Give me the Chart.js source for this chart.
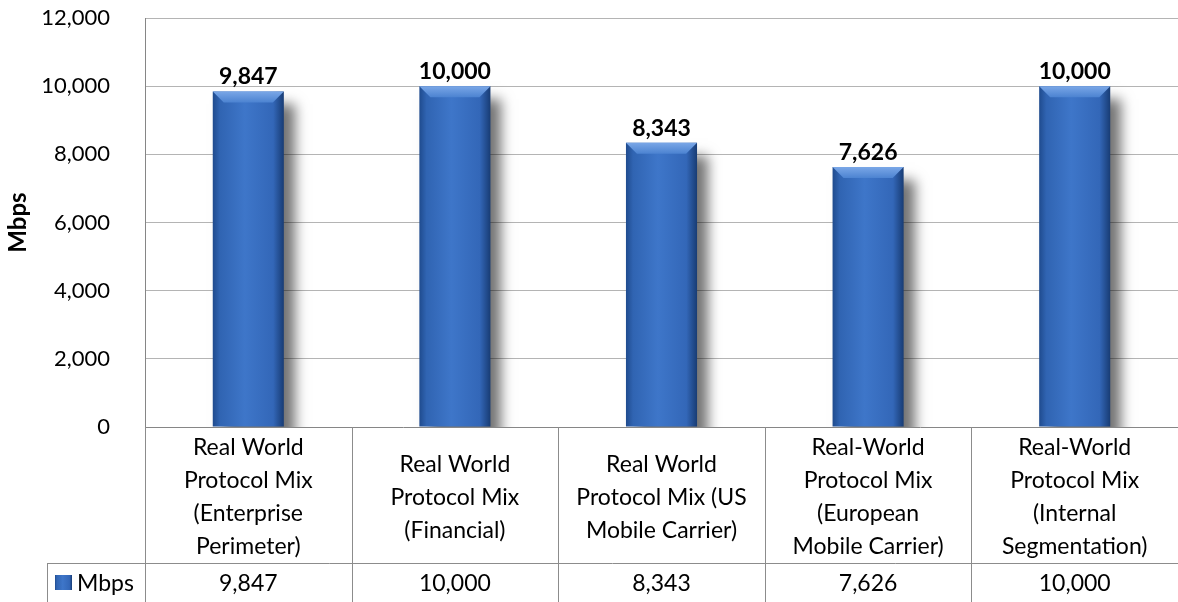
<!DOCTYPE html>
<html><head><meta charset="utf-8">
<script src="https://cdn.jsdelivr.net/npm/chart.js@4.4.1/dist/chart.umd.min.js"></script>
<style>html,body{margin:0;padding:0;background:#fff;overflow:hidden}#wrap{width:1178px;height:602px;}</style>
</head><body><div id="wrap"><canvas id="c" width="1178" height="602"></canvas></div>
<script>
const categories = [
  ['Real World','Protocol Mix','(Enterprise','Perimeter)'],
  ['Real World','Protocol Mix','(Financial)'],
  ['Real World','Protocol Mix (US','Mobile Carrier)'],
  ['Real-World','Protocol Mix','(European','Mobile Carrier)'],
  ['Real-World','Protocol Mix','(Internal','Segmentation)']
];
const seriesName = 'Mbps';
const mbpsValues = [9847, 10000, 8343, 7626, 10000];
const yMin = 0, yMax = 12000, yStep = 2000;
const axisTitle = 'Mbps';

const FONT = 'Lato, "Liberation Sans", sans-serif';
const fmt = v => v.toLocaleString('en-US');
const BAR_PCT = 0.344;
const LABEL_AREA = 136;   // height of category-label row
const KEY_LEFT = 47;

function barGradient(ctx, left, right) {
  const g = ctx.createLinearGradient(left, 0, right, 0);
  g.addColorStop(0, '#1f4b8e');
  g.addColorStop(0.1, '#3064b2');
  g.addColorStop(0.45, '#3e76c9');
  g.addColorStop(0.85, '#3367b8');
  g.addColorStop(1, '#183c74');
  return g;
}

const shadowPlugin = {
  id: 'shadow',
  beforeDatasetsDraw(chart) {
    const ctx = chart.ctx;
    ctx.save();
    ctx.shadowColor = 'rgba(0,0,0,0.55)';
    ctx.shadowBlur = 12;
    ctx.shadowOffsetX = 11;
    ctx.shadowOffsetY = 13;
  },
  afterDatasetsDraw(chart) {
    const ctx = chart.ctx;
    ctx.restore();
    const meta = chart.getDatasetMeta(0);
    meta.data.forEach((bar, i) => {
      const {x, y, width} = bar.getProps(['x','y','width'], true);
      const l = x - width/2, r = x + width/2, b = 11;
      ctx.save();
      const g = ctx.createLinearGradient(0, y, 0, y + b);
      g.addColorStop(0, '#7aa7e7');
      g.addColorStop(1, '#4c83d1');
      ctx.fillStyle = g;
      ctx.beginPath();
      ctx.moveTo(l, y); ctx.lineTo(r, y); ctx.lineTo(r - b, y + b); ctx.lineTo(l + b, y + b); ctx.closePath();
      ctx.fill();
      ctx.restore();
      ctx.save();
      ctx.fillStyle = '#000';
      ctx.font = 'bold 23px ' + FONT;
      ctx.textAlign = 'center';
      ctx.textBaseline = 'alphabetic';
      ctx.fillText(fmt(mbpsValues[i]), x, y - 7);
      ctx.restore();
    });
  }
};

const tablePlugin = {
  id: 'dataTable',
  afterDraw(chart) {
    const {ctx, chartArea: a, scales: {x}} = chart;
    const n = categories.length;
    const half = (x.getPixelForValue(1) - x.getPixelForValue(0)) / 2;
    const bottom = chart.height;
    const rowTop = Math.round(a.bottom + LABEL_AREA) + 0.5;
    ctx.save();
    ctx.strokeStyle = '#8c8c8c';
    ctx.lineWidth = 1;
    ctx.beginPath();
    for (let i = 0; i <= n; i++) {
      const bx = i < n ? x.getPixelForValue(i) - half : x.getPixelForValue(n - 1) + half;
      const px = Math.round(bx) + 0.5;
      ctx.moveTo(px, a.bottom); ctx.lineTo(px, bottom);
    }
    ctx.moveTo(KEY_LEFT, rowTop); ctx.lineTo(a.right, rowTop);
    ctx.moveTo(KEY_LEFT + 0.5, rowTop); ctx.lineTo(KEY_LEFT + 0.5, bottom);
    ctx.stroke();
    const ky = rowTop + 11.5;
    ctx.fillStyle = barGradient(ctx, 55, 72);
    ctx.fillRect(55, ky, 17, 15);
    ctx.fillStyle = '#000';
    ctx.font = '23px ' + FONT;
    ctx.textBaseline = 'middle';
    ctx.textAlign = 'left';
    const ty = (rowTop + bottom) / 2 + 1;
    ctx.fillText(seriesName, 77, ty);
    ctx.textAlign = 'center';
    mbpsValues.forEach((v, i) => ctx.fillText(fmt(v), x.getPixelForValue(i), ty));
    ctx.restore();
  }
};

new Chart(document.getElementById('c'), {
  type: 'bar',
  data: {
    labels: categories,
    datasets: [{
      label: seriesName,
      data: mbpsValues,
      barPercentage: BAR_PCT,
      categoryPercentage: 1,
      borderWidth: 0,
      backgroundColor: (c) => {
        const ch = c.chart;
        if (!ch.chartArea || !ch.scales.x) return '#3a6fc2';
        const xs = ch.scales.x;
        const cx = xs.getPixelForValue(c.dataIndex);
        const w = (xs.width / categories.length) * BAR_PCT;
        return barGradient(ch.ctx, cx - w/2, cx + w/2);
      }
    }]
  },
  options: {
    responsive: false,
    animation: false,
    events: [],
    layout: { padding: { top: 18, right: 0, left: 0, bottom: 0 } },
    plugins: { legend: { display: false }, tooltip: { enabled: false } },
    scales: {
      x: {
        grid: { display: false },
        border: { display: true, color: '#868686', width: 1 },
        ticks: {
          color: '#000',
          font: { family: FONT, size: 23, lineHeight: '33px' },
          maxRotation: 0, minRotation: 0, autoSkip: false,
          crossAlign: 'center',
          padding: 13
        },
        afterFit(s) { s.height = 175; s.paddingLeft = 0; s.paddingRight = 0; }
      },
      y: {
        min: yMin, max: yMax,
        grid: {
          color: (c) => c.tick && c.tick.value === 0 ? 'rgba(0,0,0,0)' : '#b4b4b4',
          drawTicks: false
        },
        border: { display: true, color: '#868686', width: 1 },
        ticks: {
          stepSize: yStep,
          color: '#000',
          font: { family: FONT, size: 22 },
          padding: 35,
          callback: v => fmt(v)
        },
        title: {
          display: true, text: axisTitle, color: '#000',
          font: { family: FONT, size: 24, weight: 'bold' },
          padding: { top: 4, bottom: 0 }
        },
        afterFit(s) { s.width = 145; s.paddingTop = 0; s.paddingBottom = 0; }
      }
    }
  },
  plugins: [shadowPlugin, tablePlugin]
});
</script>
</body></html>
